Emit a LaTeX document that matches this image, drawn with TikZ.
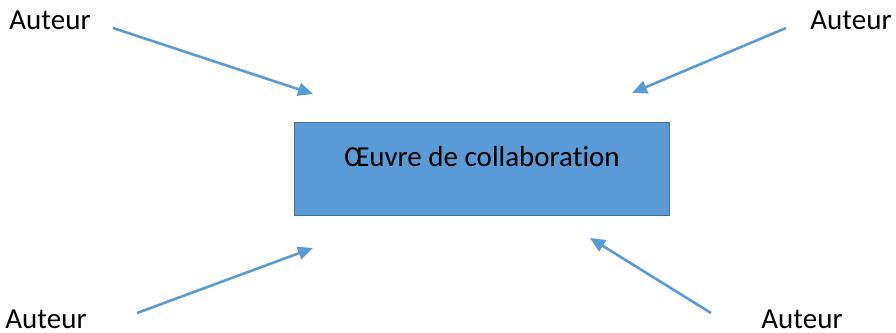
\documentclass[tikz,border=0pt]{standalone}
\usepackage{fontspec}
\setmainfont{Carlito}[Ligatures=NoCommon]
\usetikzlibrary{arrows.meta}
\definecolor{boxfill}{HTML}{5B9BD5}
\definecolor{boxline}{HTML}{41719C}
\definecolor{arr}{HTML}{5B9BD5}
\tikzset{
  lbl/.style={font=\fontsize{29}{33}\selectfont, inner sep=0pt, anchor=base, text depth=0pt},
  conn/.style={draw=arr, line width=2.6pt, -{Triangle[length=15pt,width=13pt]}},
}
\begin{document}
\begin{tikzpicture}[x=1pt,y=-1pt]
\useasboundingbox (0,0) rectangle (896,332);
\node[draw=boxline, fill=boxfill, line width=1.8pt, minimum width=375pt, minimum height=93pt, inner sep=0pt] (box) at (482,169) {};
\node[lbl] (t) at (482,166.5) {Œuvre de collaboration};
\node[lbl] (a1) at (50,29) {Auteur};
\node[lbl] (a2) at (851,29) {Auteur};
\node[lbl] (a3) at (46,328) {Auteur};
\node[lbl] (a4) at (802,328) {Auteur};
\coordinate (s1) at (113,28); \coordinate (e1) at (313,94);
\coordinate (s2) at (786,28); \coordinate (e2) at (632,93);
\coordinate (s3) at (137,313); \coordinate (e3) at (313,248);
\coordinate (s4) at (711,313); \coordinate (e4) at (590,238);
\draw[conn] (s1) -- (e1);
\draw[conn] (s2) -- (e2);
\draw[conn] (s3) -- (e3);
\draw[conn] (s4) -- (e4);
\end{tikzpicture}
\end{document}
